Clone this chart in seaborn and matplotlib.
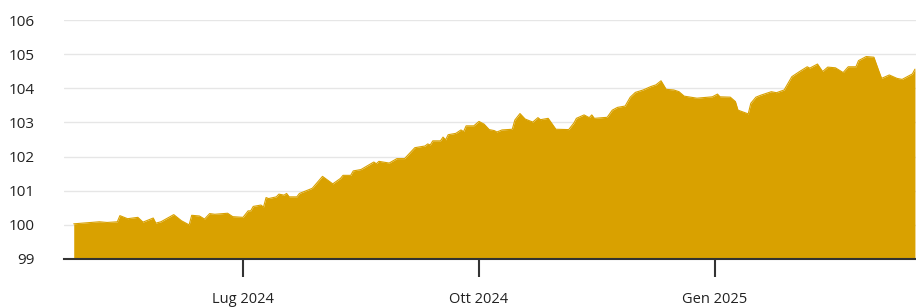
import pandas as pd
import matplotlib
matplotlib.use("Agg")
import matplotlib.pyplot as plt
import matplotlib.dates as mdates
import seaborn as sns

dates = [
    "2024-04-26", "2024-05-06", "2024-05-09", "2024-05-13", "2024-05-14", "2024-05-17",
    "2024-05-21", "2024-05-23", "2024-05-27", "2024-05-28", "2024-05-30", "2024-06-04",
    "2024-06-07", "2024-06-10", "2024-06-11", "2024-06-14", "2024-06-16", "2024-06-18",
    "2024-06-20", "2024-06-25", "2024-06-27", "2024-07-01", "2024-07-03", "2024-07-04",
    "2024-07-05", "2024-07-08", "2024-07-09", "2024-07-10", "2024-07-11", "2024-07-14",
    "2024-07-15", "2024-07-17", "2024-07-18", "2024-07-19", "2024-07-22", "2024-07-23",
    "2024-07-25", "2024-07-28", "2024-08-01", "2024-08-05", "2024-08-08", "2024-08-09",
    "2024-08-12", "2024-08-13", "2024-08-16", "2024-08-19", "2024-08-21", "2024-08-22",
    "2024-08-23", "2024-08-27", "2024-08-30", "2024-09-02", "2024-09-03", "2024-09-06",
    "2024-09-10", "2024-09-11", "2024-09-12", "2024-09-13", "2024-09-16", "2024-09-17",
    "2024-09-18", "2024-09-19", "2024-09-22", "2024-09-24", "2024-09-25", "2024-09-26",
    "2024-09-29", "2024-10-01", "2024-10-03", "2024-10-05", "2024-10-07", "2024-10-08",
    "2024-10-10", "2024-10-14", "2024-10-15", "2024-10-17", "2024-10-19", "2024-10-22",
    "2024-10-24", "2024-10-25", "2024-10-28", "2024-10-31", "2024-11-05", "2024-11-07",
    "2024-11-08", "2024-11-11", "2024-11-13", "2024-11-14", "2024-11-15", "2024-11-20",
    "2024-11-22", "2024-11-24", "2024-11-27", "2024-11-29", "2024-12-01", "2024-12-04",
    "2024-12-07", "2024-12-09", "2024-12-11", "2024-12-13", "2024-12-16", "2024-12-18",
    "2024-12-20", "2024-12-25", "2024-12-31", "2025-01-02", "2025-01-03", "2025-01-07",
    "2025-01-09", "2025-01-10", "2025-01-14", "2025-01-15", "2025-01-17", "2025-01-19",
    "2025-01-23", "2025-01-25", "2025-01-28", "2025-01-31", "2025-02-03", "2025-02-06",
    "2025-02-07", "2025-02-10", "2025-02-12", "2025-02-14", "2025-02-17", "2025-02-20",
    "2025-02-22", "2025-02-25", "2025-02-26", "2025-03-01", "2025-03-04", "2025-03-06",
    "2025-03-07", "2025-03-10", "2025-03-13", "2025-03-15", "2025-03-19", "2025-03-20",
]
values = [
    100.03, 100.09, 100.07, 100.09, 100.27, 100.18,
    100.22, 100.08, 100.20, 100.05, 100.09, 100.30,
    100.12, 100.00, 100.28, 100.26, 100.17, 100.33,
    100.31, 100.34, 100.24, 100.22, 100.41, 100.41,
    100.54, 100.58, 100.52, 100.80, 100.77, 100.82,
    100.90, 100.87, 100.92, 100.82, 100.82, 100.92,
    100.98, 101.07, 101.42, 101.20, 101.36, 101.45,
    101.45, 101.58, 101.62, 101.75, 101.84, 101.79,
    101.86, 101.81, 101.94, 101.94, 102.02, 102.26,
    102.31, 102.37, 102.34, 102.46, 102.46, 102.57,
    102.49, 102.64, 102.68, 102.78, 102.73, 102.90,
    102.90, 103.03, 102.95, 102.79, 102.76, 102.72,
    102.78, 102.80, 103.07, 103.26, 103.10, 103.01,
    103.14, 103.08, 103.12, 102.80, 102.79, 102.98,
    103.12, 103.22, 103.14, 103.22, 103.12, 103.15,
    103.36, 103.44, 103.48, 103.74, 103.88, 103.95,
    104.05, 104.10, 104.22, 103.97, 103.95, 103.90,
    103.77, 103.71, 103.75, 103.83, 103.75, 103.74,
    103.61, 103.36, 103.25, 103.56, 103.74, 103.80,
    103.90, 103.87, 103.95, 104.34, 104.49, 104.63,
    104.59, 104.71, 104.49, 104.62, 104.60, 104.46,
    104.63, 104.63, 104.81, 104.93, 104.91, 104.49,
    104.29, 104.39, 104.29, 104.26, 104.42, 104.56,
]
tick_dates = ["2024-07-01", "2024-10-01", "2025-01-01"]
tick_labels = ["Lug 2024", "Ott 2024", "Gen 2025"]
y_ticks = [99, 100, 101, 102, 103, 104, 105, 106]

df = pd.DataFrame({"date": pd.to_datetime(dates), "value": values})

sns.set_theme(style="white")
plt.rcParams["font.family"] = ["Open Sans", "DejaVu Sans"]

color = "#D9A100"
fig = plt.figure(figsize=(9.16, 3.07), dpi=100)
ax = fig.add_axes([64 / 916, 48 / 307, 1 - 64 / 916, (259 - 20) / 307])

sns.lineplot(data=df, x="date", y="value", ax=ax, color=color, linewidth=0.8)
ax.fill_between(df["date"], 99, df["value"], color=color, linewidth=0)

ax.set_ylim(99, 106)
ax.set_xlim(pd.Timestamp("2024-04-22 05:00"), pd.Timestamp("2025-03-20 10:00"))
ax.set_yticks(y_ticks)
ax.set_yticklabels([str(t) for t in y_ticks])
ax.set_xticks(pd.to_datetime(tick_dates))
ax.set_xticklabels(tick_labels)
ax.set_xlabel("")
ax.set_ylabel("")

ax.yaxis.grid(True, color="#e6e6e6", linewidth=1.0)
ax.xaxis.grid(False)
ax.set_axisbelow(True)
for s in ["top", "right", "left"]:
    ax.spines[s].set_visible(False)
ax.spines["bottom"].set_color("#333333")
ax.spines["bottom"].set_linewidth(1.5)
ax.spines["bottom"].set_zorder(5)

ax.tick_params(axis="y", length=0, pad=21, labelsize=11, labelcolor="#222222")
ax.tick_params(axis="x", bottom=True, direction="out", length=13, width=1.5,
               color="#333333", pad=11, labelsize=10.5, labelcolor="#222222")

fig.savefig("out.png", dpi=100)
